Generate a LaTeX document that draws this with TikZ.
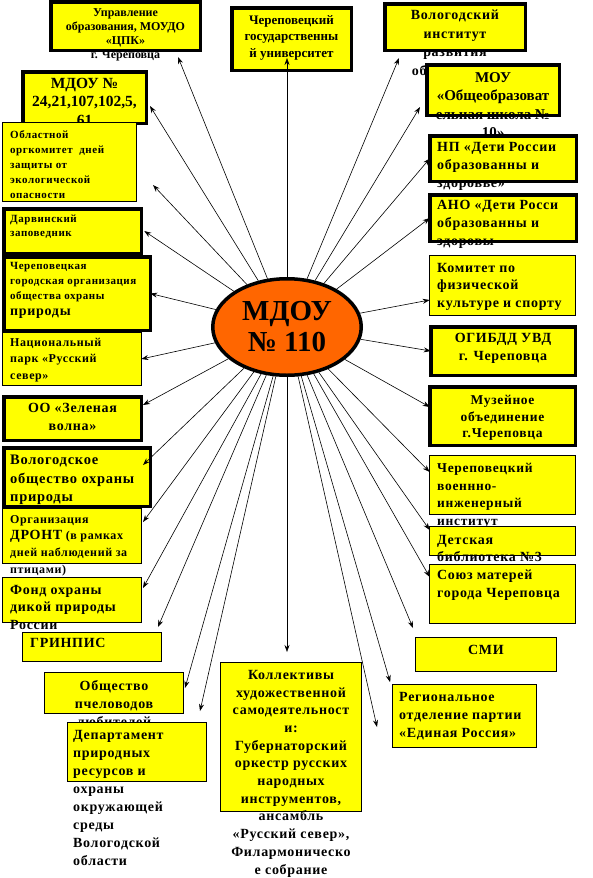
\documentclass[tikz,border=0pt]{standalone}
\usepackage{xcolor}
\usepackage{tikz}
\usepackage{fontspec}
\setmainfont{Liberation Serif}
\newfontfamily\widefont[LetterSpace=5]{Liberation Serif}
\definecolor{boxyellow}{RGB}{255,255,0}
\definecolor{huborange}{RGB}{255,102,0}
\usetikzlibrary{shapes.geometric,arrows.meta,positioning}

\begin{document}
\begin{tikzpicture}[
    x=1pt, y=-1pt,
    fs/.style 2 args={font=\widefont\bfseries\fontsize{#1}{#2}\selectfont},
    fsn/.style 2 args={font=\bfseries\fontsize{#1}{#2}\selectfont},
    box/.style={rectangle, draw=black, fill=boxyellow, line width=1.3pt, inner sep=0pt, outer sep=0pt},
    thickbox/.style={box, line width=3.5pt},
    ltxt/.style={inner sep=0pt, align=left},
    ctxt/.style={inner sep=0pt, align=center},
    hub/.style={ellipse, draw=black, line width=3.5pt, fill=huborange, inner sep=0pt, minimum width=148.5pt, minimum height=96.5pt, fsn={29}{31}, align=center},
    arrow/.style={->, >={Stealth[length=7pt,width=5pt]}, line width=0.6pt}
]
\useasboundingbox (0,0) rectangle (592,878);

% Top row
\node[thickbox, minimum width=149.5pt, minimum height=48.5pt] (uprav) at (125.5,26) {};
\node[ctxt, fsn={12}{14}, below=6.25pt of uprav.north] (uprav-t) {Управление\\образования, МОУДО\\«ЦПК»\\г. Череповца};
\node[thickbox, minimum width=119.5pt, minimum height=62.5pt] (chgu) at (291.5,39) {};
\node[ctxt, fsn={13}{16.5}, below=7.25pt of chgu.north] (chgu-t) {Череповецкий\\государственны\\й университет};
\node[thickbox, minimum width=140.5pt, minimum height=46.5pt] (vipo) at (455,27) {};
\node[ctxt, fs={14}{18.5}, below=6.25pt of vipo.north] (vipo-t) {Вологодский\\институт\\развития\\образования};

% Right column
\node[thickbox, minimum width=132.5pt, minimum height=50.5pt] (mou) at (493,90) {};
\node[ctxt, fsn={15}{18.5}, below=7.25pt of mou.north] (mou-t) {МОУ\\«Общеобразоват\\ельная школа №\\10»};
\node[thickbox, minimum width=146.5pt, minimum height=45.5pt] (np) at (503,158.5) {};
\node[ltxt, fs={14}{18}, below right=6.25pt and 7.25pt of np.north west] (np-t) {НП «Дети России\\образованны и\\здоровье»};
\node[thickbox, minimum width=146.5pt, minimum height=46.5pt] (ano) at (503,218) {};
\node[ltxt, fs={14}{18}, below right=5.25pt and 7.25pt of ano.north west] (ano-t) {АНО «Дети Росси\\образованны и\\здоровы};
\node[box, minimum width=145.7pt, minimum height=59.7pt] (komitet) at (502.5,285.5) {};
\node[ltxt, fs={14}{17.5}, below right=7.35pt and 7.35pt of komitet.north west] (komitet-t) {Комитет по\\физической\\культуре и спорту};
\node[thickbox, minimum width=144.5pt, minimum height=48.5pt] (ogibdd) at (503,351) {};
\node[ctxt, fs={14}{18.5}, below=6.25pt of ogibdd.north] (ogibdd-t) {ОГИБДД УВД\\г. Череповца};
\node[thickbox, minimum width=145.5pt, minimum height=58.5pt] (muzey) at (502.5,416) {};
\node[ctxt, fs={13.5}{16.5}, below=8.25pt of muzey.north] (muzey-t) {Музейное\\объединение\\г.Череповца};
\node[box, minimum width=145.7pt, minimum height=58.7pt] (vvii) at (502.5,485) {};
\node[ltxt, fs={13.5}{17.5}, below right=7.35pt and 7.35pt of vvii.north west] (vvii-t) {Череповецкий\\военнно-\\инженерный\\институт};
\node[box, minimum width=145.7pt, minimum height=28.7pt] (detbib) at (502.5,541) {};
\node[ltxt, fs={14}{17.5}, below right=8.35pt and 7.35pt of detbib.north west] (detbib-t) {Детская\\библиотека №3};
\node[box, minimum width=145.7pt, minimum height=58.7pt] (soyuz) at (502.5,594) {};
\node[ltxt, fs={14}{18}, below right=5.35pt and 7.35pt of soyuz.north west] (soyuz-t) {Союз матерей\\города Череповца};
\node[box, minimum width=140.7pt, minimum height=33.7pt] (smi) at (486,654.5) {};
\node[ctxt, fs={14}{18}, below=7.35pt of smi.north] (smi-t) {СМИ};
\node[box, minimum width=143.7pt, minimum height=62.7pt] (reg) at (464.5,716) {};
\node[ltxt, fs={14}{18}, below right=7.35pt and 6.35pt of reg.north west] (reg-t) {Региональное\\отделение партии\\«Единая Россия»};

% Bottom
\node[box, minimum width=140.7pt, minimum height=148.7pt] (koll) at (291,737) {};
\node[ctxt, fs={14}{17.7}, below=7.35pt of koll.north] (koll-t) {Коллективы\\художественной\\самодеятельност\\и:\\Губернаторский\\оркестр русских\\народных\\инструментов,\\ансамбль\\«Русский север»,\\Филармоническо\\е собрание};

% Left column
\node[thickbox, minimum width=123.5pt, minimum height=51.5pt] (mdou2) at (84.5,97.5) {};
\node[ctxt, fsn={15.5}{18.5}, below=6.25pt of mdou2.north] (mdou2-t) {МДОУ №\\24,21,107,102,5,\\61};
\node[box, minimum width=133.7pt, minimum height=78.7pt] (oblorg) at (69.5,162) {};
\node[ltxt, fs={11}{15}, below right=7.35pt and 7.35pt of oblorg.north west] (oblorg-t) {Областной\\оргкомитет\ \ дней\\защиты от\\экологической\\опасности};
\node[thickbox, minimum width=137.5pt, minimum height=44.5pt] (darwin) at (72.5,231) {};
\node[ltxt, fs={11}{13.5}, below right=6.25pt and 6.25pt of darwin.north west] (darwin-t) {Дарвинский\\заповедник};
\node[thickbox, minimum width=146.5pt, minimum height=73.5pt] (chgoop) at (77,293.5) {};
\node[ltxt, fs={11}{15}, below right=5.25pt and 6.25pt of chgoop.north west] (chgoop-t) {Череповецкая\\городская организация\\общества охраны\\[1pt]{\fontsize{14}{16}\selectfont природы}};
\node[box, minimum width=138.7pt, minimum height=52.7pt] (natpark) at (72,359) {};
\node[ltxt, fs={12}{16.5}, below right=5.35pt and 7.35pt of natpark.north west] (natpark-t) {Национальный\\парк «Русский\\север»};
\node[thickbox, minimum width=137.5pt, minimum height=43.5pt] (zelvol) at (72.5,418.5) {};
\node[ctxt, fs={14}{18.5}, below=6.25pt of zelvol.north] (zelvol-t) {ОО «Зеленая\\волна»};
\node[thickbox, minimum width=146.5pt, minimum height=58.5pt] (voop) at (77,477) {};
\node[ltxt, fs={14.5}{18.5}, below right=7.25pt and 6.25pt of voop.north west] (voop-t) {Вологодское\\общество охраны\\природы};
\node[box, minimum width=138.7pt, minimum height=54.7pt] (dront) at (72,536) {};
\node[ltxt, fs={12}{16.5}, below right=6.35pt and 7.35pt of dront.north west] (dront-t) {Организация\\{\fontsize{14}{16}\selectfont ДРОНТ} (в рамках\\дней наблюдений за\\[1pt]птицами)};
\node[box, minimum width=138.7pt, minimum height=44.7pt] (fond) at (72,600) {};
\node[ltxt, fs={14}{17.5}, below right=7.35pt and 7.35pt of fond.north west] (fond-t) {Фонд охраны\\дикой природы\\России};
\node[box, minimum width=138.7pt, minimum height=28.7pt] (grinpis) at (92,647) {};
\node[ltxt, fs={14}{18}, below right=5.35pt and 7.35pt of grinpis.north west] (grinpis-t) {ГРИНПИС};
\node[box, minimum width=138.7pt, minimum height=40.7pt] (pchel) at (114,693) {};
\node[ctxt, fs={14}{18}, below=7.35pt of pchel.north] (pchel-t) {Общество\\пчеловодов\\любителей};
\node[box, minimum width=138.7pt, minimum height=58.7pt] (dep) at (137,752) {};
\node[ltxt, fs={14}{18}, below right=7.35pt and 5.35pt of dep.north west] (dep-t) {Департамент\\природных\\ресурсов и\\охраны\\окружающей\\среды\\Вологодской\\области};

% Centre
\node[hub] (hub) at (287,327) {МДОУ\\№ 110};
\coordinate (loose) at (377,727);

% Arrows
\draw[arrow] (hub) -- ([xshift=52.5pt,yshift=-6.75pt]uprav.south);
\draw[arrow] (hub) -- ([xshift=-4.5pt,yshift=12.25pt]chgu.south);
\draw[arrow] (hub) -- ([xshift=14.25pt,yshift=-7.75pt]vipo.south west);
\draw[arrow] (hub) -- ([xshift=-6.75pt,yshift=8.25pt]mou.south west);
\draw[arrow] (hub) -- (np.west);
\draw[arrow] (hub) -- (ano.west);
\draw[arrow] (hub) -- ([yshift=-14.5pt]komitet.west);
\draw[arrow] (hub) -- (ogibdd.west);
\draw[arrow] (hub) -- ([yshift=9pt]muzey.west);
\draw[arrow] (hub) -- ([yshift=13pt]vvii.west);
\draw[arrow] (hub) -- ([yshift=11pt]detbib.west);
\draw[arrow] (hub) -- ([yshift=17pt]soyuz.west);
\draw[arrow] (hub) -- ([xshift=-2.65pt,yshift=9.65pt]smi.north west);
\draw[arrow] (hub) -- ([xshift=-2.5pt,yshift=2.5pt]reg.north west);
\draw[arrow] (hub) -- (loose);
\draw[arrow] (hub) -- ([xshift=-4pt,yshift=10.65pt]koll.north);
\draw[arrow] (hub) -- ([xshift=-6.35pt,yshift=11.65pt]dep.north east);
\draw[arrow] (hub) -- ([xshift=1.65pt,yshift=5pt]pchel.east);
\draw[arrow] (hub) -- ([xshift=-3.35pt,yshift=5.65pt]grinpis.north east);
\draw[arrow] (hub) -- ([xshift=1.65pt,yshift=12pt]fond.east);
\draw[arrow] (hub) -- ([xshift=1.65pt,yshift=14pt]dront.east);
\draw[arrow] (hub) -- ([xshift=-7.25pt,yshift=12pt]voop.east);
\draw[arrow] (hub) -- ([xshift=1.75pt,yshift=13.5pt]zelvol.east);
\draw[arrow] (hub) -- (natpark.east);
\draw[arrow] (hub) -- (chgoop.east);
\draw[arrow] (hub) -- ([xshift=3pt]darwin.east);
\draw[arrow] (hub) -- ([xshift=16.65pt,yshift=-23pt]oblorg.east);
\draw[arrow] (hub) -- ([xshift=3.75pt,yshift=-8.5pt]mdou2.east);

\end{tikzpicture}
\end{document}
